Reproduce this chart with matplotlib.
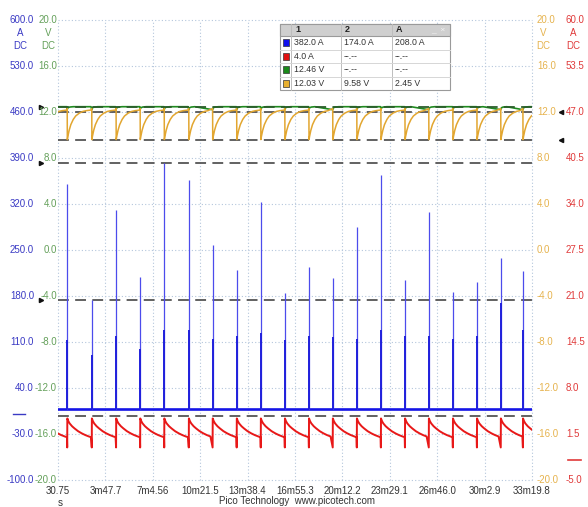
import matplotlib
matplotlib.use('Agg')
import matplotlib.pyplot as plt
import matplotlib.transforms as mtransforms
from matplotlib.patches import Rectangle
import numpy as np

plt.rcParams['font.family'] = ['Liberation Sans', 'DejaVu Sans']

# figure / plot area in pixels
W, H = 588, 507
X0, X1 = 58, 532
Y0, Y1 = 20, 480

T_START, T_END = 30.75, 1999.8
xtick_labels = ['30.75', '3m47.7', '7m4.56', '10m21.5', '13m38.4', '16m55.3',
                '20m12.2', '23m29.1', '26m46.0', '30m2.9', '33m19.8']

# channel ranges (top, bottom)
range_a = (600.0, -100.0)    # blue, A
range_b = (20.0, -20.0)      # green, V
range_c = (20.0, -20.0)      # orange, V
range_d = (60.0, -5.0)       # red, A

# load events (s); the first one is before the capture window
events = [-31, 69, 171, 272, 372, 472, 574, 673, 773, 873, 973, 1073,
          1172, 1272, 1372, 1472, 1571, 1671, 1771, 1870, 1962]

# blue current: peak of each spike and top of the wide part (A)
spike_peak = [350, 174, 311, 209, 382, 356, 258, 220, 323, 185,
              224, 207, 285, 364, 204, 308, 186, 201, 238, 218]
spike_body = [113, 90, 119, 100, 128, 128, 115, 119, 123, 113,
              119, 118, 115, 128, 119, 119, 115, 119, 169, 128]
blue_base = 8.0

# one cycle of each slow trace, seconds after an event
red_dt = [0, 0.5, 5, 10, 20, 30, 45, 60, 75, 90, 99]
red_amp = [-0.4, 3.7, 3.3, 3.0, 2.6, 2.3, 1.9, 1.6, 1.35, 1.15, 1.05]

orange_dt = [0, 0.5, 3, 8, 15, 25, 35, 50, 65, 80, 99]
orange_v = [12.3, 9.6, 9.9, 10.4, 10.9, 11.35, 11.65, 11.9, 12.05, 12.12, 12.17]

green_dt = [0, 1, 4, 10, 25, 99]
green_v = [12.2, 12.3, 12.38, 12.43, 12.46, 12.46]

# ruler positions
ruler_a = [382.0, 174.0]
ruler_d = [4.0]
ruler_b = [12.46]
ruler_c = [12.03, 9.58]

C_BLUE = '#1414e6'
C_RED = '#e81818'
C_GREEN = '#1f8a1f'
C_ORANGE = '#e2a630'
L_BLUE = '#3a3ac4'
L_GREEN = '#64a05a'
L_ORANGE = '#e6b34e'
L_RED = '#e03a3a'
GRID = '#b4c6dc'


def tile(dts, vals):
    ts, vs = [], []
    for i, e in enumerate(events):
        nxt = events[i + 1] if i + 1 < len(events) else T_END + 200
        for d, v in zip(dts, vals):
            if e + d < nxt:
                ts.append(e + d)
                vs.append(v)
    return np.array(ts), np.array(vs)


fig = plt.figure(figsize=(W / 100, H / 100), dpi=100)
fig.patch.set_facecolor('white')
pos = [X0 / W, 1 - Y1 / H, (X1 - X0) / W, (Y1 - Y0) / H]

ax_a = fig.add_axes(pos)
ax_b = ax_a.twinx()
ax_c = ax_a.twinx()
ax_d = ax_a.twinx()
for a, r in ((ax_a, range_a), (ax_b, range_b), (ax_c, range_c), (ax_d, range_d)):
    a.set_ylim(r[1], r[0])
    a.set_xlim(T_START, T_END)
    for s in a.spines.values():
        s.set_visible(False)
    a.set_yticks([])
    a.patch.set_visible(False)

# grid
xt = np.linspace(T_START, T_END, 11)
ax_a.set_xticks(xt)
ax_a.set_xticklabels(xtick_labels, fontsize=7, color='#333333')
ax_a.tick_params(axis='x', length=0, pad=4)
for x in xt:
    ax_a.axvline(x, color=GRID, lw=0.8, ls=(0, (1, 2)), zorder=0, clip_on=False)
for y in np.linspace(range_a[1], range_a[0], 11):
    ax_a.axhline(y, color=GRID, lw=0.8, ls=(0, (1, 2)), zorder=0, clip_on=False)

# blue current
ax_a.axhline(blue_base, color=C_BLUE, lw=1.9, zorder=3)
ev = events[1:]
ax_a.vlines(ev, blue_base, spike_peak, color='#4c4cec', lw=0.9, zorder=3)
ax_a.vlines(ev, blue_base, spike_body, color='#2020dc', lw=1.4, zorder=3)

# red current
t_r, v_r = tile(red_dt, red_amp)
ax_d.plot(t_r, v_r, color=C_RED, lw=1.4, zorder=3)

# green and orange voltages
t_o, v_o = tile(orange_dt, orange_v)
ax_c.plot(t_o, v_o, color=C_ORANGE, lw=1.1, zorder=3)
t_g, v_g = tile(green_dt, green_v)
ax_b.plot(t_g, v_g, color=C_GREEN, lw=1.2, zorder=4)

# rulers
dash = (0, (6, 3.5))
for v in ruler_a:
    ax_a.axhline(v, color='#555555', lw=1.3, ls=dash, zorder=2)
for v in ruler_d:
    ax_d.axhline(v, color='#555555', lw=1.3, ls=dash, zorder=2)
for v in ruler_c:
    ax_c.axhline(v, color='#555555', lw=1.3, ls=dash, zorder=2)
for v in ruler_b:
    ax_b.axhline(v, color='#2a5e2a', lw=1.3, ls=dash, zorder=5)

# axis scale labels
def fig_y(axis):
    return mtransforms.blended_transform_factory(fig.transFigure, axis.transData)

cols = [
    (ax_a, range_a, 34, 'right', L_BLUE, 'A', 20),
    (ax_b, range_b, 57, 'right', L_GREEN, 'V', 48),
    (ax_c, range_c, 537, 'left', L_ORANGE, 'V', 543),
    (ax_d, range_d, 566, 'left', L_RED, 'A', 573),
]
for axis, r, xp, ha, col, unit, ux in cols:
    tr = fig_y(axis)
    for v in np.linspace(r[0], r[1], 11):
        axis.text(xp / W, v, f'{v:.1f}', transform=tr, ha=ha, va='center',
                  fontsize=7, color=col, clip_on=False)
    step = (r[0] - r[1]) / (Y1 - Y0)
    axis.text(ux / W, r[0] - 13 * step, unit, transform=tr, ha='center',
              va='center', fontsize=7, color=col, clip_on=False)
    axis.text(ux / W, r[0] - 26 * step, 'DC', transform=tr, ha='center',
              va='center', fontsize=7, color=col, clip_on=False)

# ruler handles
for v in ruler_a:
    ax_a.plot([41 / W], [v], marker='>', ms=3, color='#111111',
              transform=fig_y(ax_a), clip_on=False)
for v in ruler_b:
    ax_b.plot([41 / W], [v], marker='>', ms=3, color='#111111',
              transform=fig_y(ax_b), clip_on=False)
for v in ruler_c:
    ax_c.plot([561 / W], [v], marker='<', ms=3, color='#111111',
              transform=fig_y(ax_c), clip_on=False)

# channel offset markers
ax_a.plot([13 / W, 25 / W], [0, 0], color=L_BLUE, lw=1.0,
          transform=fig_y(ax_a), clip_on=False)
ax_d.plot([568 / W, 581 / W], [-2.2, -2.2], color=L_RED, lw=1.2,
          transform=fig_y(ax_d), clip_on=False)

# overlay in pixel coordinates for footer and ruler table
ov = fig.add_axes([0, 0, 1, 1])
ov.set_xlim(0, W)
ov.set_ylim(H, 0)
ov.axis('off')
ov.patch.set_visible(False)
ov.set_zorder(10)

ov.text(60, 503, 's', ha='center', va='center', fontsize=7, color='#333333')
ov.text(297, 501, 'Pico Technology  www.picotech.com', ha='center', va='center',
        fontsize=7, color='#333333')


def fmt(v, unit, dec):
    return f'{v:.{dec}f} {unit}'


table_rows = [
    ('#1010ee', [fmt(ruler_a[0], 'A', 1), fmt(ruler_a[1], 'A', 1),
                 fmt(ruler_a[0] - ruler_a[1], 'A', 1)]),
    ('#e01010', [fmt(ruler_d[0], 'A', 1), '--.--', '--.--']),
    ('#1a8a1a', [fmt(ruler_b[0], 'V', 2), '--.--', '--.--']),
    ('#e8b030', [fmt(ruler_c[0], 'V', 2), fmt(ruler_c[1], 'V', 2),
                 fmt(ruler_c[0] - ruler_c[1], 'V', 2)]),
]
tx0, tx1 = 280, 450
ty0, th_head, th_row = 24, 12, 13.5
col_x = [tx0, 291, 341, 392, tx1]
n = len(table_rows)
ty1 = ty0 + th_head + n * th_row
ov.add_patch(Rectangle((tx0, ty0), tx1 - tx0, ty1 - ty0, facecolor='white',
                       edgecolor='#9a9a9a', lw=0.8, zorder=11))
ov.add_patch(Rectangle((tx0, ty0), tx1 - tx0, th_head, facecolor='#cfcfcf',
                       edgecolor='#9a9a9a', lw=0.8, zorder=12))
for cx in col_x[1:-1]:
    ov.plot([cx, cx], [ty0, ty1], color='#bdbdbd', lw=0.7, zorder=13)
for i in range(1, n):
    yy = ty0 + th_head + i * th_row
    ov.plot([tx0, tx1], [yy, yy], color='#d6d6d6', lw=0.7, zorder=13)
for label, cx in zip(['1', '2', 'A'], col_x[1:4]):
    ov.text(cx + 4, ty0 + th_head / 2, label, ha='left', va='center',
            fontsize=6.5, fontweight='bold', color='#222222', zorder=14)
ov.text(tx1 - 12, ty0 + th_head / 2, '_  ×', ha='center', va='center',
        fontsize=6, color='#f4f4f4', zorder=14)
for i, (c, cells) in enumerate(table_rows):
    yc = ty0 + th_head + (i + 0.5) * th_row
    ov.add_patch(Rectangle((282.5, yc - 3.5), 6, 7, facecolor=c,
                           edgecolor='#333333', lw=0.5, zorder=14))
    for s, cx in zip(cells, col_x[1:4]):
        ov.text(cx + 3, yc, s, ha='left', va='center', fontsize=6.3,
                color='#333333', zorder=14)

fig.savefig('out.png', dpi=100, facecolor='white')
